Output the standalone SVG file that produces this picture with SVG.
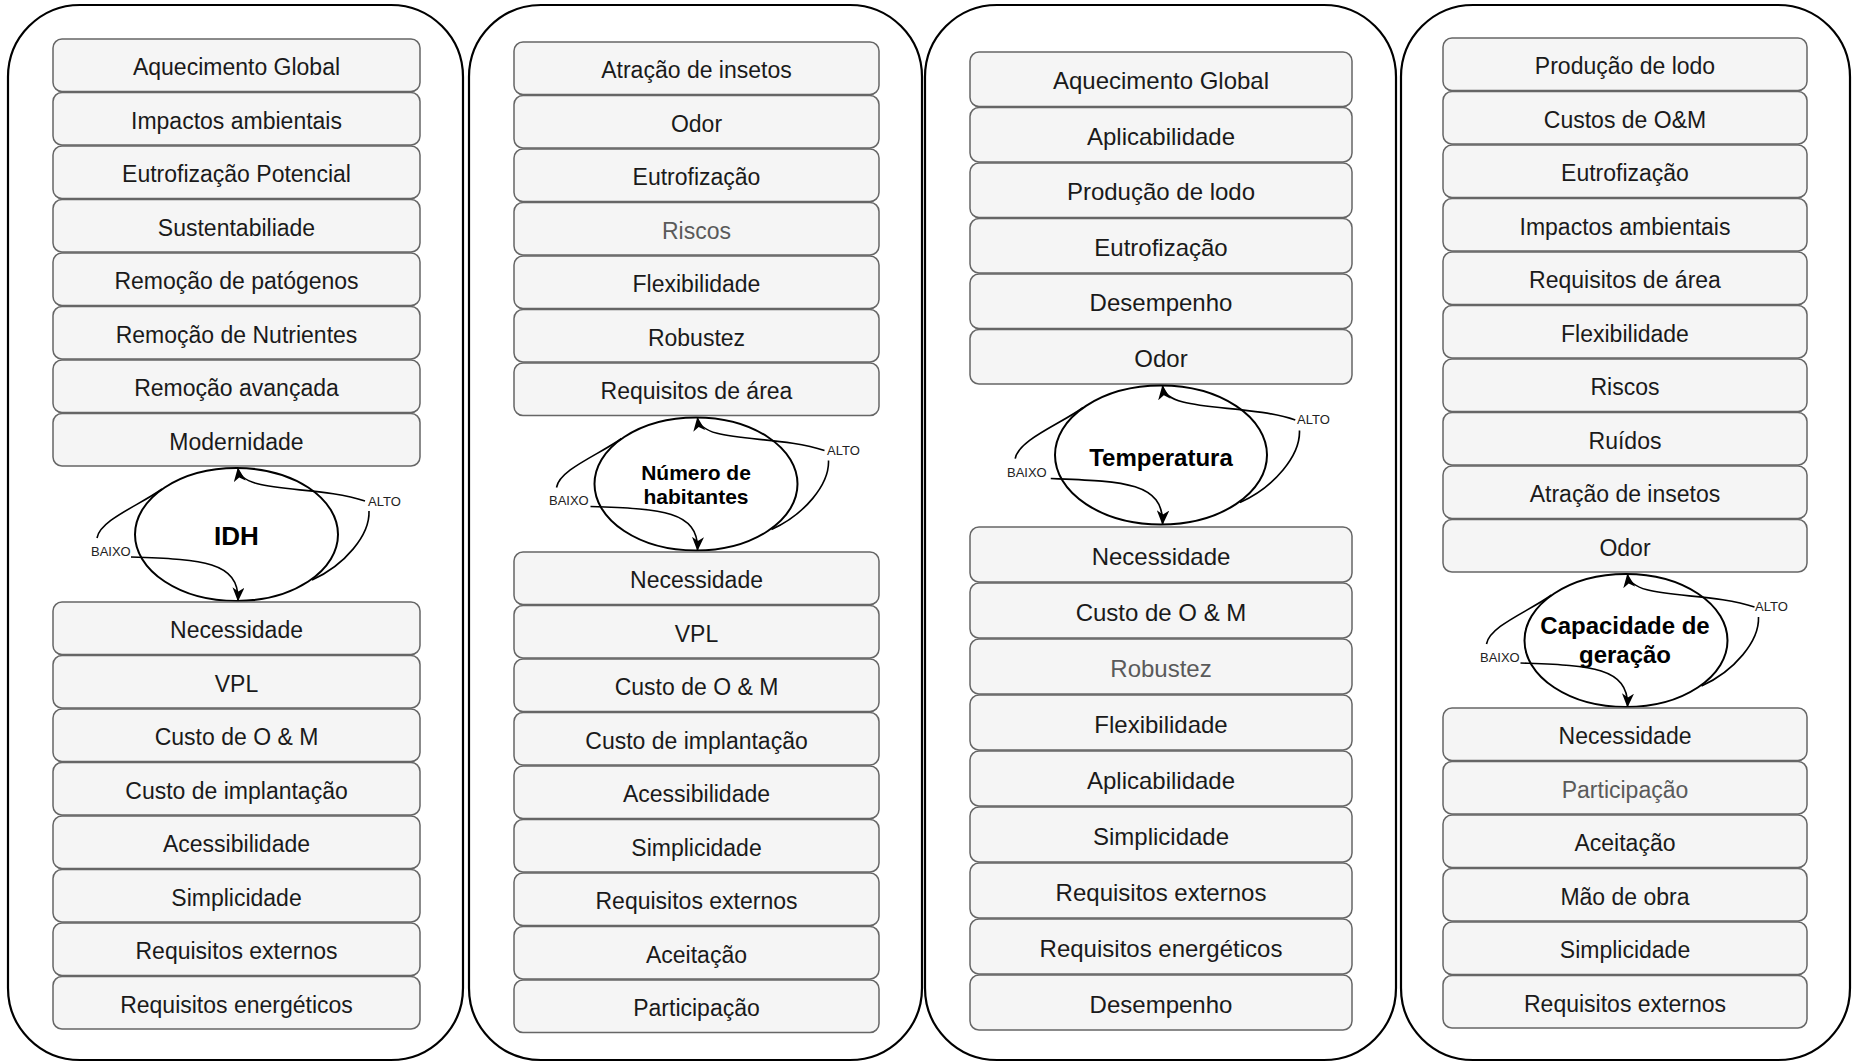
<svg xmlns="http://www.w3.org/2000/svg" width="1852" height="1062" viewBox="0 0 1852 1062">
  <style>
    .panel { fill: #ffffff; stroke: #000000; stroke-width: 2.2; }
    .box { fill: #f5f5f5; stroke: #666666; stroke-width: 1.5; }
    .t { font-family: "Liberation Sans", Arial, sans-serif; font-size: 23px; fill: #1a1a1a; text-anchor: middle; }
    .t3 { font-size: 24px; }
    .dim { fill: #5a5a5a; }
    .cyc { fill: none; stroke: #000000; stroke-width: 2; }
    .edge { fill: none; stroke: #000000; stroke-width: 1.6; }
    .tag { font-family: "Liberation Sans", Arial, sans-serif; font-size: 13px; fill: #222222; }
    .hub { font-family: "Liberation Sans", Arial, sans-serif; font-weight: bold; fill: #000000; text-anchor: middle; }
  </style>
  <defs>
    <marker id="arrow" viewBox="0 0 14 12" refX="13" refY="6" markerWidth="14" markerHeight="12" markerUnits="userSpaceOnUse" orient="auto">
      <path d="M0,0 L14,6 L0,12 L4,6 Z" fill="#000000"/>
    </marker>
  </defs>

  <!-- panels -->
  <g id="panels">
    <rect class="panel" x="8" y="5" width="455" height="1055" rx="72" ry="72"/>
    <rect class="panel" x="469" y="5" width="453" height="1055" rx="72" ry="72"/>
    <rect class="panel" x="925" y="5" width="471" height="1055" rx="72" ry="72"/>
    <rect class="panel" x="1401" y="5" width="449" height="1055" rx="72" ry="72"/>
  </g>

  <!-- column 1: IDH -->
  <g id="col-idh">
    <g id="idh-top">
      <rect class="box" x="53" y="39" width="367" height="52.5" rx="9"/><text class="t" x="236.5" y="75">Aquecimento Global</text>
      <rect class="box" x="53" y="92.5" width="367" height="52.5" rx="9"/><text class="t" x="236.5" y="128.5">Impactos ambientais</text>
      <rect class="box" x="53" y="146" width="367" height="52.5" rx="9"/><text class="t" x="236.5" y="182">Eutrofização Potencial</text>
      <rect class="box" x="53" y="199.5" width="367" height="52.5" rx="9"/><text class="t" x="236.5" y="235.5">Sustentabiliade</text>
      <rect class="box" x="53" y="253" width="367" height="52.5" rx="9"/><text class="t" x="236.5" y="289">Remoção de patógenos</text>
      <rect class="box" x="53" y="306.5" width="367" height="52.5" rx="9"/><text class="t" x="236.5" y="342.5">Remoção de Nutrientes</text>
      <rect class="box" x="53" y="360" width="367" height="52.5" rx="9"/><text class="t" x="236.5" y="396">Remoção avançada</text>
      <rect class="box" x="53" y="413.5" width="367" height="52.5" rx="9"/><text class="t" x="236.5" y="449.5">Modernidade</text>
    </g>
    <g id="idh-hub">
      <ellipse class="cyc" cx="236.5" cy="534.5" rx="101.5" ry="66.5"/>
      <text class="hub" x="236.5" y="545" font-size="26">IDH</text>
    </g>
    <g id="idh-bottom">
      <rect class="box" x="53" y="602" width="367" height="52.5" rx="9"/><text class="t" x="236.5" y="638">Necessidade</text>
      <rect class="box" x="53" y="655.5" width="367" height="52.5" rx="9"/><text class="t" x="236.5" y="691.5">VPL</text>
      <rect class="box" x="53" y="709" width="367" height="52.5" rx="9"/><text class="t" x="236.5" y="745">Custo de O &amp; M</text>
      <rect class="box" x="53" y="762.5" width="367" height="52.5" rx="9"/><text class="t" x="236.5" y="798.5">Custo de implantação</text>
      <rect class="box" x="53" y="816" width="367" height="52.5" rx="9"/><text class="t" x="236.5" y="852">Acessibilidade</text>
      <rect class="box" x="53" y="869.5" width="367" height="52.5" rx="9"/><text class="t" x="236.5" y="905.5">Simplicidade</text>
      <rect class="box" x="53" y="923" width="367" height="52.5" rx="9"/><text class="t" x="236.5" y="959">Requisitos externos</text>
      <rect class="box" x="53" y="976.5" width="367" height="52.5" rx="9"/><text class="t" x="236.5" y="1012.5">Requisitos energéticos</text>
    </g>
  </g>

  <!-- column 2: Número de habitantes -->
  <g id="col-hab">
    <g id="hab-top">
      <rect class="box" x="514" y="42" width="365" height="52.5" rx="9"/><text class="t" x="696.5" y="78">Atração de insetos</text>
      <rect class="box" x="514" y="95.5" width="365" height="52.5" rx="9"/><text class="t" x="696.5" y="131.5">Odor</text>
      <rect class="box" x="514" y="149" width="365" height="52.5" rx="9"/><text class="t" x="696.5" y="185">Eutrofização</text>
      <rect class="box" x="514" y="202.5" width="365" height="52.5" rx="9"/><text class="t dim" x="696.5" y="238.5">Riscos</text>
      <rect class="box" x="514" y="256" width="365" height="52.5" rx="9"/><text class="t" x="696.5" y="292">Flexibilidade</text>
      <rect class="box" x="514" y="309.5" width="365" height="52.5" rx="9"/><text class="t" x="696.5" y="345.5">Robustez</text>
      <rect class="box" x="514" y="363" width="365" height="52.5" rx="9"/><text class="t" x="696.5" y="399">Requisitos de área</text>
    </g>
    <g id="hab-hub">
      <ellipse class="cyc" cx="696" cy="484" rx="101.5" ry="66.5"/>
      <text class="hub" x="696" y="480" font-size="21">Número de</text>
      <text class="hub" x="696" y="504" font-size="21">habitantes</text>
    </g>
    <g id="hab-bottom">
      <rect class="box" x="514" y="552" width="365" height="52.5" rx="9"/><text class="t" x="696.5" y="588">Necessidade</text>
      <rect class="box" x="514" y="605.5" width="365" height="52.5" rx="9"/><text class="t" x="696.5" y="641.5">VPL</text>
      <rect class="box" x="514" y="659" width="365" height="52.5" rx="9"/><text class="t" x="696.5" y="695">Custo de O &amp; M</text>
      <rect class="box" x="514" y="712.5" width="365" height="52.5" rx="9"/><text class="t" x="696.5" y="748.5">Custo de implantação</text>
      <rect class="box" x="514" y="766" width="365" height="52.5" rx="9"/><text class="t" x="696.5" y="802">Acessibilidade</text>
      <rect class="box" x="514" y="819.5" width="365" height="52.5" rx="9"/><text class="t" x="696.5" y="855.5">Simplicidade</text>
      <rect class="box" x="514" y="873" width="365" height="52.5" rx="9"/><text class="t" x="696.5" y="909">Requisitos externos</text>
      <rect class="box" x="514" y="926.5" width="365" height="52.5" rx="9"/><text class="t" x="696.5" y="962.5">Aceitação</text>
      <rect class="box" x="514" y="980" width="365" height="52.5" rx="9"/><text class="t" x="696.5" y="1016">Participação</text>
    </g>
  </g>

  <!-- column 3: Temperatura -->
  <g id="col-temp">
    <g id="temp-top">
      <rect class="box" x="970" y="52" width="382" height="54.5" rx="9"/><text class="t t3" x="1161" y="89">Aquecimento Global</text>
      <rect class="box" x="970" y="107.5" width="382" height="54.5" rx="9"/><text class="t t3" x="1161" y="144.5">Aplicabilidade</text>
      <rect class="box" x="970" y="163" width="382" height="54.5" rx="9"/><text class="t t3" x="1161" y="200">Produção de lodo</text>
      <rect class="box" x="970" y="218.5" width="382" height="54.5" rx="9"/><text class="t t3" x="1161" y="255.5">Eutrofização</text>
      <rect class="box" x="970" y="274" width="382" height="54.5" rx="9"/><text class="t t3" x="1161" y="311">Desempenho</text>
      <rect class="box" x="970" y="329.5" width="382" height="54.5" rx="9"/><text class="t t3" x="1161" y="366.5">Odor</text>
    </g>
    <g id="temp-hub">
      <ellipse class="cyc" cx="1161" cy="455" rx="106" ry="69.5"/>
      <text class="hub" x="1161" y="466" font-size="24">Temperatura</text>
    </g>
    <g id="temp-bottom">
      <rect class="box" x="970" y="527" width="382" height="55" rx="9"/><text class="t t3" x="1161" y="564.5">Necessidade</text>
      <rect class="box" x="970" y="583" width="382" height="55" rx="9"/><text class="t t3" x="1161" y="620.5">Custo de O &amp; M</text>
      <rect class="box" x="970" y="639" width="382" height="55" rx="9"/><text class="t t3 dim" x="1161" y="676.5">Robustez</text>
      <rect class="box" x="970" y="695" width="382" height="55" rx="9"/><text class="t t3" x="1161" y="732.5">Flexibilidade</text>
      <rect class="box" x="970" y="751" width="382" height="55" rx="9"/><text class="t t3" x="1161" y="788.5">Aplicabilidade</text>
      <rect class="box" x="970" y="807" width="382" height="55" rx="9"/><text class="t t3" x="1161" y="844.5">Simplicidade</text>
      <rect class="box" x="970" y="863" width="382" height="55" rx="9"/><text class="t t3" x="1161" y="900.5">Requisitos externos</text>
      <rect class="box" x="970" y="919" width="382" height="55" rx="9"/><text class="t t3" x="1161" y="956.5">Requisitos energéticos</text>
      <rect class="box" x="970" y="975" width="382" height="55" rx="9"/><text class="t t3" x="1161" y="1012.5">Desempenho</text>
    </g>
  </g>

  <!-- column 4: Capacidade de geração -->
  <g id="col-cap">
    <g id="cap-top">
      <rect class="box" x="1443" y="38" width="364" height="52.5" rx="9"/><text class="t" x="1625" y="74">Produção de lodo</text>
      <rect class="box" x="1443" y="91.5" width="364" height="52.5" rx="9"/><text class="t" x="1625" y="127.5">Custos de O&amp;M</text>
      <rect class="box" x="1443" y="145" width="364" height="52.5" rx="9"/><text class="t" x="1625" y="181">Eutrofização</text>
      <rect class="box" x="1443" y="198.5" width="364" height="52.5" rx="9"/><text class="t" x="1625" y="234.5">Impactos ambientais</text>
      <rect class="box" x="1443" y="252" width="364" height="52.5" rx="9"/><text class="t" x="1625" y="288">Requisitos de área</text>
      <rect class="box" x="1443" y="305.5" width="364" height="52.5" rx="9"/><text class="t" x="1625" y="341.5">Flexibilidade</text>
      <rect class="box" x="1443" y="359" width="364" height="52.5" rx="9"/><text class="t" x="1625" y="395">Riscos</text>
      <rect class="box" x="1443" y="412.5" width="364" height="52.5" rx="9"/><text class="t" x="1625" y="448.5">Ruídos</text>
      <rect class="box" x="1443" y="466" width="364" height="52.5" rx="9"/><text class="t" x="1625" y="502">Atração de insetos</text>
      <rect class="box" x="1443" y="519.5" width="364" height="52.5" rx="9"/><text class="t" x="1625" y="555.5">Odor</text>
    </g>
    <g id="cap-hub">
      <ellipse class="cyc" cx="1626" cy="640.5" rx="101.5" ry="66.5"/>
      <text class="hub" x="1625" y="634" font-size="24">Capacidade de</text>
      <text class="hub" x="1625" y="663" font-size="24">geração</text>
    </g>
    <g id="cap-bottom">
      <rect class="box" x="1443" y="708" width="364" height="52.5" rx="9"/><text class="t" x="1625" y="744">Necessidade</text>
      <rect class="box" x="1443" y="761.5" width="364" height="52.5" rx="9"/><text class="t dim" x="1625" y="797.5">Participação</text>
      <rect class="box" x="1443" y="815" width="364" height="52.5" rx="9"/><text class="t" x="1625" y="851">Aceitação</text>
      <rect class="box" x="1443" y="868.5" width="364" height="52.5" rx="9"/><text class="t" x="1625" y="904.5">Mão de obra</text>
      <rect class="box" x="1443" y="922" width="364" height="52.5" rx="9"/><text class="t" x="1625" y="958">Simplicidade</text>
      <rect class="box" x="1443" y="975.5" width="364" height="52.5" rx="9"/><text class="t" x="1625" y="1011.5">Requisitos externos</text>
    </g>
  </g>

  <!-- ALTO / BAIXO loops around each hub -->
  <g id="connectors">
    <g transform="translate(236.5 534.5)">
      <path class="edge" d="M128.5,-33.5 C80,-50 5,-40 1.5,-66" marker-end="url(#arrow)"/>
      <path class="edge" d="M132.5,-23.5 C133.5,0.5 108.5,30.5 75.5,45.5"/>
      <path class="edge" d="M-139.5,3.5 C-136.5,-14.5 -96.5,-29.5 -74.5,-45.5"/>
      <path class="edge" d="M-105.5,22.5 C-40,25 3,25 1.5,66" marker-end="url(#arrow)"/>
    </g>
    <g transform="translate(696 484)">
      <path class="edge" d="M128.5,-33.5 C80,-50 5,-40 1.5,-66" marker-end="url(#arrow)"/>
      <path class="edge" d="M132.5,-23.5 C133.5,0.5 108.5,30.5 75.5,45.5"/>
      <path class="edge" d="M-139.5,3.5 C-136.5,-14.5 -96.5,-29.5 -74.5,-45.5"/>
      <path class="edge" d="M-105.5,22.5 C-40,25 3,25 1.5,66" marker-end="url(#arrow)"/>
    </g>
    <g transform="translate(1161 455) scale(1.045)">
      <path class="edge" d="M128.5,-33.5 C80,-50 5,-40 1.5,-66" marker-end="url(#arrow)"/>
      <path class="edge" d="M132.5,-23.5 C133.5,0.5 108.5,30.5 75.5,45.5"/>
      <path class="edge" d="M-139.5,3.5 C-136.5,-14.5 -96.5,-29.5 -74.5,-45.5"/>
      <path class="edge" d="M-105.5,22.5 C-40,25 3,25 1.5,66" marker-end="url(#arrow)"/>
    </g>
    <g transform="translate(1626 640.5)">
      <path class="edge" d="M128.5,-33.5 C80,-50 5,-40 1.5,-66" marker-end="url(#arrow)"/>
      <path class="edge" d="M132.5,-23.5 C133.5,0.5 108.5,30.5 75.5,45.5"/>
      <path class="edge" d="M-139.5,3.5 C-136.5,-14.5 -96.5,-29.5 -74.5,-45.5"/>
      <path class="edge" d="M-105.5,22.5 C-40,25 3,25 1.5,66" marker-end="url(#arrow)"/>
    </g>
    <text class="tag" x="368" y="506">ALTO</text>
    <text class="tag" x="91" y="556">BAIXO</text>
    <text class="tag" x="827" y="455">ALTO</text>
    <text class="tag" x="549" y="505">BAIXO</text>
    <text class="tag" x="1297" y="424">ALTO</text>
    <text class="tag" x="1007" y="477">BAIXO</text>
    <text class="tag" x="1755" y="611">ALTO</text>
    <text class="tag" x="1480" y="662">BAIXO</text>
  </g>
</svg>
